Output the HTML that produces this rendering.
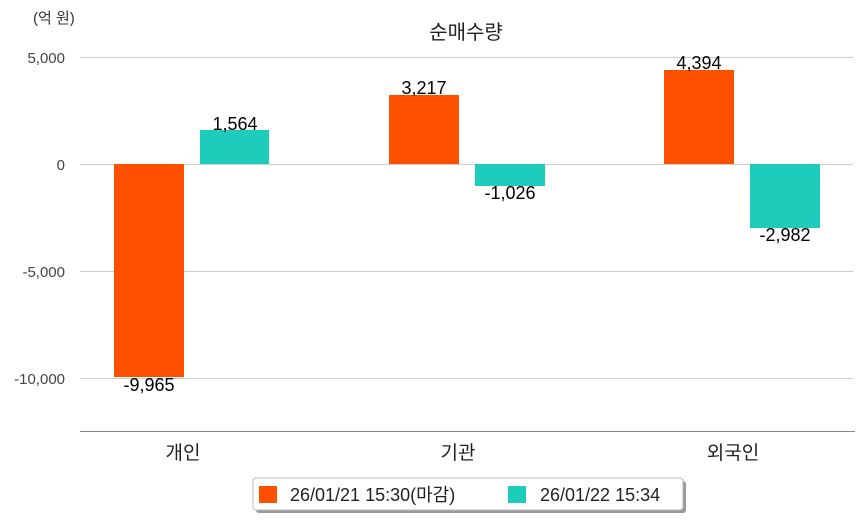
<!DOCTYPE html>
<html><head><meta charset="utf-8"><style>body{margin:0;background:#fff}svg{display:block}text{font-family:"Liberation Sans","Noto Sans CJK KR",sans-serif}</style></head>
<body><svg width="863" height="520" viewBox="0 0 863 520">
<text x="33" y="23" font-size="15" fill="#333">(억 원)</text>
<text x="466" y="39" font-size="20" fill="#222" text-anchor="middle">순매수량</text>
<g stroke="#ccc" stroke-width="1">
<line x1="80" y1="57.5" x2="853" y2="57.5"/><line x1="80" y1="164.5" x2="853" y2="164.5"/>
<line x1="80" y1="271.5" x2="853" y2="271.5"/><line x1="80" y1="378.5" x2="853" y2="378.5"/>
</g>
<line x1="80" y1="431.5" x2="855" y2="431.5" stroke="#888" stroke-width="1"/>
<g font-size="15" fill="#444" text-anchor="end">
<text x="65" y="63">5,000</text><text x="65" y="170">0</text><text x="65" y="277">-5,000</text><text x="65" y="384">-10,000</text>
</g>
<g fill="#FF5000">
<rect x="114" y="164" width="70" height="213"/><rect x="389" y="95" width="70" height="69"/><rect x="664" y="70" width="70" height="94"/>
</g>
<g fill="#1ECCBC">
<rect x="200" y="130" width="69" height="34"/><rect x="475" y="164" width="70" height="22"/><rect x="750" y="164" width="70" height="64"/>
</g>
<g font-size="18" fill="#000" text-anchor="middle">
<text x="149" y="391">-9,965</text><text x="235" y="130">1,564</text>
<text x="424" y="94">3,217</text><text x="510" y="199">-1,026</text>
<text x="699" y="69">4,394</text><text x="785" y="241">-2,982</text>
</g>
<g font-size="19" fill="#222" text-anchor="middle">
<text x="183" y="459">개인</text><text x="458" y="459">기관</text><text x="733" y="459">외국인</text>
</g>
<rect x="256" y="481" width="430" height="32" rx="3" fill="#999"/>
<rect x="253" y="478" width="430" height="32" rx="3" fill="#fff" stroke="#bbb"/>
<rect x="259" y="486" width="18" height="17" fill="#FF5000"/>
<rect x="508" y="486" width="18" height="17" fill="#1ECCBC"/>
<g font-size="18" fill="#222"><text x="290" y="501">26/01/21 15:30(마감)</text><text x="540" y="501">26/01/22 15:34</text></g>
</svg></body></html>
